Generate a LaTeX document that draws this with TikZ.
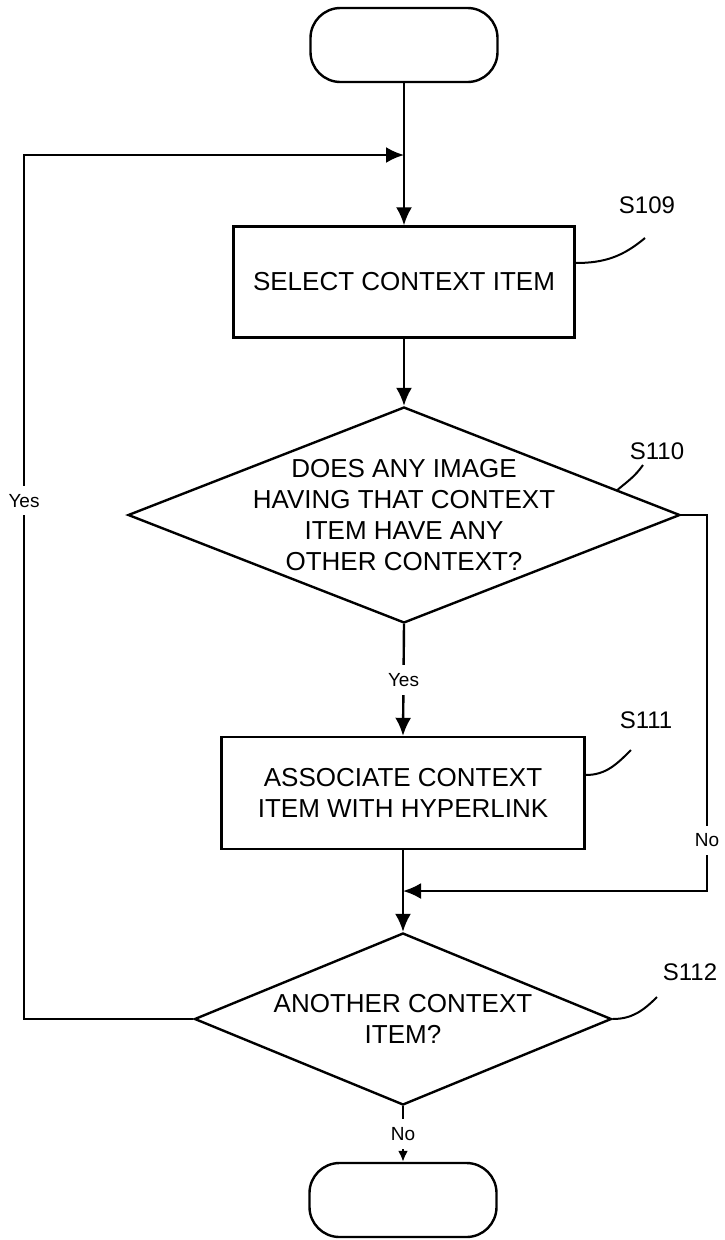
\documentclass[tikz,border=0pt]{standalone}
\usepackage{fontspec}
\setmainfont{Liberation Sans}
\usetikzlibrary{calc, shapes.geometric, arrows.meta}
\tikzset{>={Latex[length=18pt,width=16pt]}}
\tikzset{
  term/.style={draw, rectangle, rounded corners=30pt, minimum width=187pt, minimum height=74pt, inner sep=0pt},
  proc/.style={draw, rectangle, inner sep=0pt, align=center, font=\fontsize{26}{31}\selectfont},
  decide/.style={draw, diamond, inner sep=0pt},
  qtext/.style={align=center, font=\fontsize{26}{31}\selectfont},
  note/.style={font=\fontsize{24}{28}\selectfont},
  yesno/.style={fill=white, inner xsep=2pt, inner ysep=8pt, font=\fontsize{19}{22}\selectfont},
  callout/.style={line width=2pt},
  small tip/.style={-{Latex[length=11pt,width=10pt]}}
}

\begin{document}
\begin{tikzpicture}[x=1pt, y=-1pt, line width=2.4pt]
\useasboundingbox (0,0) rectangle (724,1240);

% steps
\node[term] (start) at (404,45) {};
\node[proc, minimum width=341pt, minimum height=111pt] (select) at (404,282) {SELECT CONTEXT ITEM};
\node[decide, minimum width=552pt, minimum height=216pt] (ask) at (404,515) {};
\node[qtext] (askq) at (ask) {DOES ANY IMAGE\\HAVING THAT CONTEXT\\ITEM HAVE ANY\\OTHER CONTEXT?};
\node[proc, minimum width=363pt, minimum height=112pt] (assoc) at (403,793) {ASSOCIATE CONTEXT\\ITEM WITH HYPERLINK};
\node[decide, minimum width=417pt, minimum height=172pt] (more) at (403,1019) {};
\node[qtext] (moreq) at (more) {ANOTHER CONTEXT\\ITEM?};
\node[term] (stop) at (403,1200) {};

% step numbers
\node[note] (n109) at (647,205) {S109};
\node[note] (n110) at (657,451) {S110};
\node[note] (n111) at (646,720) {S111};
\node[note] (n112) at (690,972) {S112};
\coordinate (c109) at (645,238);
\coordinate (c110) at (643,465);
\coordinate (c111) at (631,750);
\coordinate (c112) at (657,997);
\draw[callout] ([yshift=19pt]select.east) to[out=0, in=-140] (c109);
\draw[callout] ($(ask.north)!0.77!(ask.east)$) to[out=40, in=-125] (c110);
\draw[callout] ([yshift=18pt]assoc.east) to[out=0, in=-135] (c111);
\draw[callout] (more.east) to[out=0, in=-135] (c112);

% flow
\coordinate (loopin) at (404,155);
\coordinate (join) at (403,891);
\path
(start.south)  edge[->]                          (select.north)
(select.south) edge[->]                          (ask.north)
(ask.south)    edge[->] node[yesno] {Yes}        (assoc.north)
(assoc.south)  edge[->]                          (more.north)
(more.south)   edge[small tip] node[yesno] {No}  (stop.north);
\draw[->] (more.west) -| node[yesno, pos=0.8] {Yes} (24,155) -- (loopin);
\draw[->] (ask.east) -- (707,515) -- node[yesno, pos=0.865] {No} (707,891) -- (join);
\end{tikzpicture}
\end{document}
